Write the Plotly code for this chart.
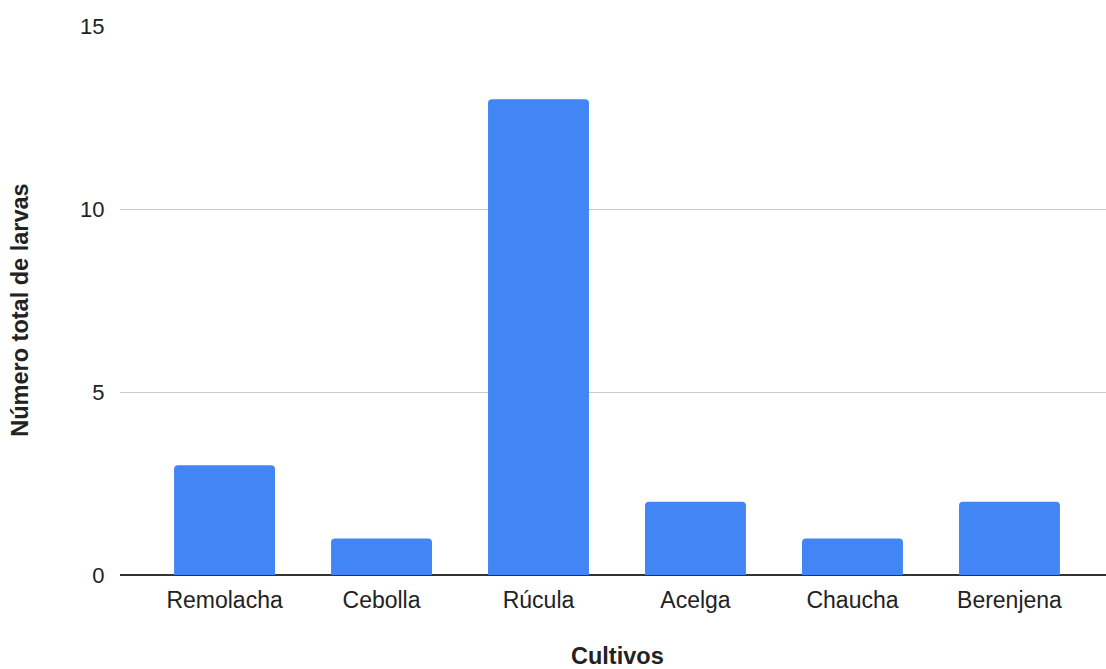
import plotly.graph_objects as go

# Cultivos y número total de larvas encontradas
cultivos = ["Remolacha", "Cebolla", "Rúcula", "Acelga", "Chaucha", "Berenjena"]
larvas = [3, 1, 13, 2, 1, 2]
y_ticks = [0, 5, 10, 15]

W, H = 1106, 669
m_l, m_r, m_t, m_b = 120, 0, 26, 93.5
plot_w = W - m_l - m_r
plot_h = H - m_t - m_b

fig = go.Figure(
    go.Bar(
        x=cultivos,
        y=larvas,
        marker=dict(color="#4285F4", line=dict(width=0)),
        hoverinfo="x+y",
    )
)

fig.update_layout(
    width=W,
    height=H,
    margin=dict(l=m_l, r=m_r, t=m_t, b=m_b, pad=0),
    paper_bgcolor="white",
    plot_bgcolor="white",
    bargap=0.357,
    barcornerradius=4,
    showlegend=False,
    font=dict(family="Arial, Liberation Sans, sans-serif", size=22, color="#222222"),
    xaxis=dict(
        range=[-0.666, 5.615],
        showgrid=False,
        showline=False,
        zeroline=False,
        ticks="outside",
        ticklen=4,
        tickcolor="rgba(0,0,0,0)",
        tickfont=dict(size=23, color="#222222"),
        fixedrange=True,
    ),
    yaxis=dict(
        range=[0, 15],
        tickvals=y_ticks,
        showgrid=True,
        gridcolor="#c8c8c8",
        gridwidth=1.3,
        zeroline=True,
        zerolinecolor="#333333",
        zerolinewidth=2,
        showline=False,
        ticks="outside",
        ticklen=10,
        tickcolor="rgba(0,0,0,0)",
        tickfont=dict(size=22, color="#222222"),
        fixedrange=True,
    ),
    annotations=[
        dict(
            text="<b>Cultivos</b>",
            xref="paper", yref="paper",
            x=(617 - m_l) / plot_w,
            y=(H - m_b - 657) / plot_h,
            xanchor="center", yanchor="middle",
            showarrow=False,
            font=dict(size=23.5, color="#222222"),
        ),
        dict(
            text="<b>Número total de larvas</b>",
            xref="paper", yref="paper",
            x=(20 - m_l) / plot_w,
            y=(H - m_b - 311) / plot_h,
            xanchor="center", yanchor="middle",
            textangle=-90,
            showarrow=False,
            font=dict(size=23.5, color="#222222"),
        ),
    ],
)

fig.write_html("out.html")
